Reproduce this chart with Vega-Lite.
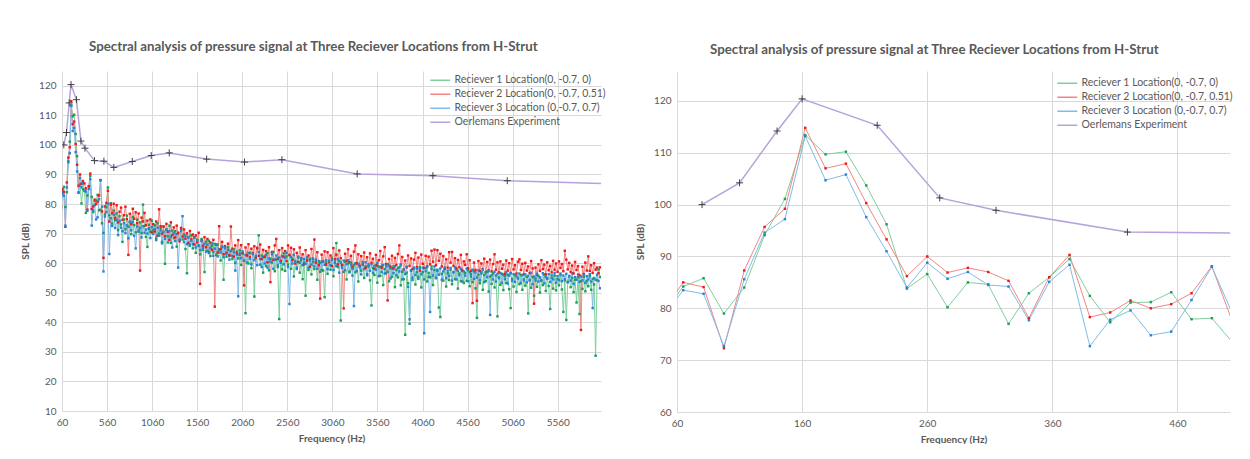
{
"$schema": "https://vega.github.io/schema/vega-lite/v6.json",
"background": "white",
"padding": {"left": 20, "top": 39, "right": 0, "bottom": 0},
"spacing": 29,
"config": {
  "font": "Lato",
  "view": {"stroke": null},
  "axis": {"labelColor": "#595959", "labelFontSize": 10, "titleColor": "#595959", "titleFontSize": 10, "titleFontWeight": "bold", "gridColor": "#d9d9d9", "gridWidth": 1, "ticks": false, "domain": false, "labelPadding": 6, "labelFlush": false},
  "title": {"color": "#595959", "fontSize": 13.3, "fontWeight": "bold", "anchor": "middle", "frame": "bounds"},
  "legend": {"orient": "none", "symbolType": "M-2.5,0L2.5,0", "symbolSize": 64, "symbolStrokeWidth": 1.5, "labelFontSize": 10.5, "labelColor": "#595959", "rowPadding": 3, "labelOffset": 9, "padding": 0}
},
"datasets": {
"oe": [
{"f":80,"s":"d","v":100.0},{"f":110,"s":"d","v":104.2},{"f":140,"s":"d","v":114.2},{"f":160,"s":"d","v":120.4},{"f":220,"s":"d","v":115.3},{"f":270,"s":"d","v":101.3},{"f":315,"s":"d","v":98.9},{"f":420,"s":"d","v":94.7},{"f":525,"s":"d","v":94.5},{"f":635,"s":"d","v":92.4},{"f":840,"s":"d","v":94.4},{"f":1050,"s":"d","v":96.4},{"f":1250,"s":"d","v":97.3},{"f":1665,"s":"d","v":95.2},{"f":2085,"s":"d","v":94.2},{"f":2500,"s":"d","v":95.0},{"f":3335,"s":"d","v":90.2},{"f":4175,"s":"d","v":89.6},{"f":5000,"s":"d","v":87.9},{"f":6300,"s":"d","v":86.7}
],
"rx": [
{"f":48.75,"a":79.0,"b":79.5,"c":78.4},
{"f":65,"a":84.2,"b":85.0,"c":83.5},
{"f":81.25,"a":85.8,"b":84.1,"c":82.8},
{"f":97.5,"a":79.0,"b":72.3,"c":72.7},
{"f":113.75,"a":84.0,"b":87.3,"c":85.6},
{"f":130,"a":94.1,"b":95.7,"c":94.6},
{"f":146.25,"a":101.1,"b":99.2,"c":97.2},
{"f":162.5,"a":113.4,"b":114.8,"c":113.2},
{"f":178.75,"a":109.7,"b":107.0,"c":104.7},
{"f":195,"a":110.2,"b":107.9,"c":105.8},
{"f":211.25,"a":103.7,"b":100.3,"c":97.6},
{"f":227.5,"a":96.2,"b":93.3,"c":91.0},
{"f":243.75,"a":83.8,"b":86.2,"c":84.0},
{"f":260,"a":86.6,"b":90.0,"c":88.8},
{"f":276.25,"a":80.2,"b":86.9,"c":85.7},
{"f":292.5,"a":85.0,"b":87.8,"c":87.0},
{"f":308.75,"a":84.6,"b":87.0,"c":84.5},
{"f":325,"a":77.0,"b":85.3,"c":84.2},
{"f":341.25,"a":82.9,"b":78.1,"c":77.7},
{"f":357.5,"a":86.0,"b":86.0,"c":85.1},
{"f":373.75,"a":89.5,"b":90.3,"c":88.4},
{"f":390,"a":82.4,"b":78.3,"c":72.7},
{"f":406.25,"a":77.3,"b":79.2,"c":77.8},
{"f":422.5,"a":81.1,"b":81.5,"c":79.6},
{"f":438.75,"a":81.2,"b":80.0,"c":74.8},
{"f":455,"a":83.1,"b":80.8,"c":75.5},
{"f":471.25,"a":77.9,"b":82.9,"c":81.6},
{"f":487.5,"a":78.1,"b":88.1,"c":88.0},
{"f":503.75,"a":73.5,"b":77.5,"c":79.1},
{"f":520,"a":70.2,"b":61.8,"c":57.2},
{"f":536.25,"a":76.5,"b":79.2,"c":75.8},
{"f":552.5,"a":78.9,"b":80.4,"c":77.3},
{"f":568.75,"a":85.6,"b":84.5,"c":80.1},
{"f":585,"a":76.2,"b":74.1,"c":63.1},
{"f":601.25,"a":80.3,"b":79.8,"c":75.2},
{"f":617.5,"a":73.4,"b":76.9,"c":72.6},
{"f":633.75,"a":77.8,"b":80.1,"c":76.4},
{"f":650,"a":74.5,"b":75.3,"c":71.9},
{"f":666.25,"a":76.8,"b":79.6,"c":74.7},
{"f":682.5,"a":71.2,"b":73.8,"c":69.5},
{"f":698.75,"a":75.9,"b":77.4,"c":74.3},
{"f":715,"a":73.1,"b":78.8,"c":72.0},
{"f":731.25,"a":67.2,"b":74.6,"c":70.8},
{"f":747.5,"a":74.8,"b":76.2,"c":73.5},
{"f":763.75,"a":71.5,"b":79.1,"c":70.2},
{"f":780,"a":76.1,"b":74.9,"c":72.8},
{"f":796.25,"a":72.3,"b":62.8,"c":68.4},
{"f":812.5,"a":74.0,"b":76.7,"c":73.9},
{"f":828.75,"a":69.8,"b":73.2,"c":71.1},
{"f":845,"a":75.6,"b":78.4,"c":74.0},
{"f":861.25,"a":72.9,"b":75.0,"c":69.3},
{"f":877.5,"a":70.4,"b":77.2,"c":65.0},
{"f":893.75,"a":74.7,"b":73.5,"c":72.4},
{"f":910,"a":71.0,"b":76.8,"c":70.6},
{"f":926.25,"a":73.8,"b":57.5,"c":71.9},
{"f":942.5,"a":70.2,"b":75.4,"c":68.7},
{"f":958.75,"a":79.8,"b":74.1,"c":72.5},
{"f":975,"a":72.6,"b":77.0,"c":70.3},
{"f":991.25,"a":68.9,"b":72.8,"c":71.4},
{"f":1007.5,"a":65.5,"b":74.4,"c":70.0},
{"f":1023.75,"a":73.0,"b":71.6,"c":71.8},
{"f":1040,"a":70.7,"b":74.8,"c":68.5},
{"f":1056.25,"a":74.4,"b":70.4,"c":72.2},
{"f":1072.5,"a":71.1,"b":73.2,"c":69.9},
{"f":1088.75,"a":72.8,"b":70.7,"c":71.5},
{"f":1105,"a":68.4,"b":74.1,"c":67.8},
{"f":1121.25,"a":73.5,"b":69.3,"c":72.0},
{"f":1137.5,"a":70.0,"b":78.2,"c":69.3},
{"f":1153.75,"a":71.9,"b":72.5,"c":71.1},
{"f":1170,"a":67.2,"b":70.0,"c":66.7},
{"f":1186.25,"a":72.4,"b":72.4,"c":70.6},
{"f":1202.5,"a":59.8,"b":69.1,"c":68.2},
{"f":1218.75,"a":71.3,"b":73.3,"c":71.4},
{"f":1235,"a":69.1,"b":70.6,"c":67.0},
{"f":1251.25,"a":72.7,"b":67.9,"c":70.8},
{"f":1267.5,"a":66.9,"b":73.8,"c":68.9},
{"f":1283.75,"a":71.0,"b":69.5,"c":65.3},
{"f":1300,"a":68.5,"b":72.1,"c":70.1},
{"f":1316.25,"a":70.8,"b":68.7,"c":67.5},
{"f":1332.5,"a":65.6,"b":72.7,"c":69.8},
{"f":1348.75,"a":70.3,"b":70.2,"c":58.5},
{"f":1365,"a":67.8,"b":67.4,"c":68.0},
{"f":1381.25,"a":71.6,"b":71.9,"c":70.9},
{"f":1397.5,"a":68.0,"b":69.0,"c":75.9},
{"f":1413.75,"a":69.7,"b":71.4,"c":67.1},
{"f":1430,"a":64.8,"b":68.3,"c":69.2},
{"f":1446.25,"a":56.6,"b":70.1,"c":66.4},
{"f":1462.5,"a":68.9,"b":66.8,"c":68.7},
{"f":1478.75,"a":66.2,"b":70.9,"c":65.9},
{"f":1495,"a":69.4,"b":68.0,"c":67.6},
{"f":1511.25,"a":65.0,"b":69.7,"c":66.5},
{"f":1527.5,"a":68.6,"b":66.3,"c":68.8},
{"f":1543.75,"a":63.5,"b":69.4,"c":65.3},
{"f":1560,"a":67.9,"b":67.1,"c":67.7},
{"f":1576.25,"a":65.8,"b":70.3,"c":66.0},
{"f":1592.5,"a":63.0,"b":53.0,"c":64.4},
{"f":1608.75,"a":68.2,"b":67.6,"c":67.5},
{"f":1625,"a":64.5,"b":65.9,"c":65.2},
{"f":1641.25,"a":57.0,"b":68.8,"c":66.6},
{"f":1657.5,"a":67.3,"b":65.4,"c":63.9},
{"f":1673.75,"a":64.2,"b":68.2,"c":66.3},
{"f":1690,"a":67.6,"b":63.7,"c":63.4},
{"f":1706.25,"a":62.4,"b":67.0,"c":65.1},
{"f":1722.5,"a":65.9,"b":64.5,"c":66.7},
{"f":1738.75,"a":63.7,"b":67.9,"c":62.5},
{"f":1755,"a":66.5,"b":45.3,"c":64.9},
{"f":1771.25,"a":62.8,"b":66.3,"c":66.2},
{"f":1787.5,"a":66.3,"b":63.6,"c":62.3},
{"f":1803.75,"a":64.4,"b":72.5,"c":64.8},
{"f":1820,"a":60.9,"b":64.7,"c":63.6},
{"f":1836.25,"a":65.6,"b":67.2,"c":65.5},
{"f":1852.5,"a":54.4,"b":63.0,"c":62.0},
{"f":1868.75,"a":65.1,"b":65.8,"c":65.3},
{"f":1885,"a":62.2,"b":63.5,"c":63.1},
{"f":1901.25,"a":65.4,"b":66.6,"c":64.5},
{"f":1917.5,"a":62.5,"b":62.7,"c":61.2},
{"f":1933.75,"a":64.1,"b":72.4,"c":64.2},
{"f":1950,"a":61.4,"b":64.9,"c":62.4},
{"f":1966.25,"a":64.7,"b":62.2,"c":63.7},
{"f":1982.5,"a":60.1,"b":66.0,"c":57.5},
{"f":1998.75,"a":63.9,"b":63.4,"c":62.9},
{"f":2015,"a":61.6,"b":67.8,"c":48.8},
{"f":2031.25,"a":64.3,"b":62.9,"c":63.3},
{"f":2047.5,"a":59.4,"b":66.1,"c":61.7},
{"f":2063.75,"a":63.2,"b":63.5,"c":64.0},
{"f":2080,"a":60.8,"b":52.5,"c":60.9},
{"f":2096.25,"a":43.1,"b":65.3,"c":62.8},
{"f":2112.5,"a":62.7,"b":62.6,"c":60.2},
{"f":2128.75,"a":59.9,"b":66.4,"c":63.5},
{"f":2145,"a":63.5,"b":62.0,"c":61.5},
{"f":2161.25,"a":58.3,"b":64.9,"c":59.6},
{"f":2177.5,"a":63.0,"b":63.4,"c":63.2},
{"f":2193.75,"a":48.7,"b":65.7,"c":61.0},
{"f":2210,"a":61.8,"b":61.9,"c":62.5},
{"f":2226.25,"a":64.9,"b":65.2,"c":59.3},
{"f":2242.5,"a":69.4,"b":62.5,"c":63.8},
{"f":2258.75,"a":59.5,"b":66.3,"c":61.4},
{"f":2275,"a":62.6,"b":61.4,"c":58.7},
{"f":2291.25,"a":56.8,"b":64.5,"c":62.1},
{"f":2307.5,"a":62.1,"b":62.2,"c":59.9},
{"f":2323.75,"a":59.0,"b":64.1,"c":62.7},
{"f":2340,"a":63.4,"b":60.3,"c":58.5},
{"f":2356.25,"a":57.6,"b":65.4,"c":61.6},
{"f":2372.5,"a":61.5,"b":53.6,"c":60.5},
{"f":2388.75,"a":60.2,"b":63.8,"c":63.0},
{"f":2405,"a":63.8,"b":61.1,"c":58.1},
{"f":2421.25,"a":57.3,"b":66.0,"c":61.3},
{"f":2437.5,"a":61.1,"b":68.2,"c":62.6},
{"f":2453.75,"a":58.7,"b":61.5,"c":59.4},
{"f":2470,"a":41.1,"b":64.4,"c":61.9},
{"f":2486.25,"a":60.6,"b":60.8,"c":60.1},
{"f":2502.5,"a":57.9,"b":65.1,"c":62.4},
{"f":2518.75,"a":63.3,"b":62.2,"c":59.6},
{"f":2535,"a":57.4,"b":64.1,"c":61.8},
{"f":2551.25,"a":62.3,"b":60.7,"c":63.5},
{"f":2567.5,"a":59.5,"b":66.0,"c":58.7},
{"f":2583.75,"a":62.7,"b":62.8,"c":46.2},
{"f":2600,"a":58.1,"b":65.2,"c":62.1},
{"f":2616.25,"a":61.4,"b":61.0,"c":59.9},
{"f":2632.5,"a":55.5,"b":64.7,"c":62.8},
{"f":2648.75,"a":60.7,"b":59.9,"c":60.5},
{"f":2665,"a":58.5,"b":63.5,"c":58.0},
{"f":2681.25,"a":61.9,"b":60.4,"c":62.2},
{"f":2697.5,"a":56.8,"b":65.3,"c":60.1},
{"f":2713.75,"a":61.0,"b":61.7,"c":61.7},
{"f":2730,"a":54.6,"b":63.0,"c":59.3},
{"f":2746.25,"a":60.2,"b":59.6,"c":61.4},
{"f":2762.5,"a":49.0,"b":64.4,"c":59.8},
{"f":2778.75,"a":61.1,"b":60.9,"c":62.0},
{"f":2795,"a":57.7,"b":62.6,"c":58.4},
{"f":2811.25,"a":61.5,"b":58.8,"c":60.9},
{"f":2827.5,"a":56.2,"b":64.8,"c":59.5},
{"f":2843.75,"a":60.4,"b":61.4,"c":61.6},
{"f":2860,"a":58.0,"b":68.0,"c":58.9},
{"f":2876.25,"a":60.8,"b":60.2,"c":61.2},
{"f":2892.5,"a":54.4,"b":63.7,"c":58.1},
{"f":2908.75,"a":59.9,"b":59.3,"c":60.7},
{"f":2925,"a":57.1,"b":48.0,"c":60.2},
{"f":2941.25,"a":60.6,"b":62.9,"c":57.7},
{"f":2957.5,"a":57.5,"b":60.6,"c":60.5},
{"f":2973.75,"a":48.5,"b":64.0,"c":59.4},
{"f":2990,"a":60.1,"b":59.5,"c":61.0},
{"f":3006.25,"a":56.4,"b":63.7,"c":58.0},
{"f":3022.5,"a":60.3,"b":60.5,"c":60.8},
{"f":3038.75,"a":57.8,"b":62.6,"c":59.3},
{"f":3055,"a":61.8,"b":59.0,"c":61.1},
{"f":3071.25,"a":55.6,"b":65.1,"c":57.7},
{"f":3087.5,"a":60.0,"b":61.3,"c":60.5},
{"f":3103.75,"a":66.8,"b":62.9,"c":59.0},
{"f":3120,"a":58.7,"b":59.6,"c":61.3},
{"f":3136.25,"a":60.8,"b":64.3,"c":56.8},
{"f":3152.5,"a":40.6,"b":61.7,"c":60.2},
{"f":3168.75,"a":59.2,"b":59.4,"c":58.4},
{"f":3185,"a":57.0,"b":44.7,"c":60.9},
{"f":3201.25,"a":60.5,"b":63.2,"c":57.6},
{"f":3217.5,"a":54.5,"b":60.8,"c":59.7},
{"f":3233.75,"a":59.9,"b":64.7,"c":61.0},
{"f":3250,"a":57.2,"b":60.3,"c":56.9},
{"f":3266.25,"a":60.2,"b":62.5,"c":59.5},
{"f":3282.5,"a":55.8,"b":58.7,"c":58.1},
{"f":3298.75,"a":59.4,"b":63.9,"c":45.5},
{"f":3315,"a":56.9,"b":66.0,"c":60.0},
{"f":3331.25,"a":60.1,"b":59.9,"c":57.3},
{"f":3347.5,"a":53.8,"b":63.0,"c":59.8},
{"f":3363.75,"a":59.0,"b":59.1,"c":58.6},
{"f":3380,"a":57.5,"b":62.4,"c":56.2},
{"f":3396.25,"a":60.4,"b":59.5,"c":59.9},
{"f":3412.5,"a":55.0,"b":63.6,"c":58.0},
{"f":3428.75,"a":58.9,"b":58.4,"c":60.3},
{"f":3445,"a":56.3,"b":62.0,"c":55.9},
{"f":3461.25,"a":59.6,"b":58.9,"c":59.1},
{"f":3477.5,"a":54.2,"b":63.3,"c":57.4},
{"f":3493.75,"a":45.7,"b":60.1,"c":59.6},
{"f":3510,"a":58.4,"b":61.5,"c":56.7},
{"f":3526.25,"a":56.0,"b":58.1,"c":59.0},
{"f":3542.5,"a":59.3,"b":62.8,"c":57.8},
{"f":3558.75,"a":53.4,"b":59.2,"c":60.1},
{"f":3575,"a":58.8,"b":61.0,"c":55.6},
{"f":3591.25,"a":55.7,"b":64.1,"c":58.7},
{"f":3607.5,"a":59.1,"b":58.5,"c":57.0},
{"f":3623.75,"a":52.6,"b":62.3,"c":59.4},
{"f":3640,"a":58.0,"b":65.4,"c":56.5},
{"f":3656.25,"a":56.6,"b":59.7,"c":58.9},
{"f":3672.5,"a":59.7,"b":47.4,"c":57.1},
{"f":3688.75,"a":53.9,"b":61.4,"c":59.2},
{"f":3705,"a":58.3,"b":58.8,"c":54.8},
{"f":3721.25,"a":55.4,"b":62.5,"c":58.3},
{"f":3737.5,"a":58.9,"b":58.2,"c":56.6},
{"f":3753.75,"a":51.9,"b":61.8,"c":59.0},
{"f":3770,"a":57.7,"b":59.4,"c":55.9},
{"f":3786.25,"a":55.2,"b":63.1,"c":58.4},
{"f":3802.5,"a":58.6,"b":66.0,"c":57.2},
{"f":3818.75,"a":52.5,"b":59.5,"c":59.3},
{"f":3835,"a":57.1,"b":62.1,"c":54.5},
{"f":3851.25,"a":54.6,"b":57.8,"c":57.9},
{"f":3867.5,"a":35.8,"b":60.9,"c":56.3},
{"f":3883.75,"a":56.8,"b":58.6,"c":58.8},
{"f":3900,"a":53.2,"b":62.6,"c":52.0},
{"f":3916.25,"a":39.5,"b":59.1,"c":41.0},
{"f":3932.5,"a":57.4,"b":61.6,"c":57.6},
{"f":3948.75,"a":54.3,"b":58.0,"c":55.1},
{"f":3965,"a":58.2,"b":61.2,"c":58.5},
{"f":3981.25,"a":52.8,"b":63.5,"c":56.0},
{"f":3997.5,"a":57.0,"b":58.7,"c":58.1},
{"f":4013.75,"a":55.4,"b":61.9,"c":54.7},
{"f":4030,"a":58.6,"b":57.5,"c":58.3},
{"f":4046.25,"a":51.8,"b":62.9,"c":56.2},
{"f":4062.5,"a":57.0,"b":59.8,"c":58.5},
{"f":4078.75,"a":54.5,"b":58.3,"c":36.3},
{"f":4095,"a":58.4,"b":62.5,"c":57.3},
{"f":4111.25,"a":53.8,"b":59.0,"c":58.7},
{"f":4127.5,"a":56.7,"b":62.2,"c":55.4},
{"f":4143.75,"a":55.2,"b":59.6,"c":43.5},
{"f":4160,"a":58.9,"b":64.2,"c":58.0},
{"f":4176.25,"a":52.6,"b":60.5,"c":55.8},
{"f":4192.5,"a":57.7,"b":64.6,"c":58.9},
{"f":4208.75,"a":54.9,"b":59.3,"c":55.1},
{"f":4225,"a":57.4,"b":64.4,"c":57.8},
{"f":4241.25,"a":45.0,"b":60.8,"c":56.1},
{"f":4257.5,"a":41.8,"b":63.2,"c":58.2},
{"f":4273.75,"a":56.4,"b":58.9,"c":54.4},
{"f":4290,"a":54.1,"b":62.4,"c":57.2},
{"f":4306.25,"a":58.1,"b":58.1,"c":58.5},
{"f":4322.5,"a":52.1,"b":61.3,"c":54.9},
{"f":4338.75,"a":56.6,"b":58.5,"c":57.5},
{"f":4355,"a":54.3,"b":63.7,"c":55.7},
{"f":4371.25,"a":57.8,"b":60.2,"c":58.4},
{"f":4387.5,"a":52.9,"b":63.8,"c":54.1},
{"f":4403.75,"a":56.9,"b":59.1,"c":57.0},
{"f":4420,"a":54.6,"b":61.7,"c":58.6},
{"f":4436.25,"a":58.3,"b":57.9,"c":54.5},
{"f":4452.5,"a":51.4,"b":61.1,"c":57.4},
{"f":4468.75,"a":56.5,"b":58.6,"c":55.9},
{"f":4485,"a":53.9,"b":62.8,"c":58.1},
{"f":4501.25,"a":57.5,"b":57.5,"c":53.8},
{"f":4517.5,"a":53.3,"b":60.6,"c":57.2},
{"f":4533.75,"a":56.7,"b":59.4,"c":55.8},
{"f":4550,"a":54.0,"b":63.0,"c":58.2},
{"f":4566.25,"a":57.6,"b":58.3,"c":53.9},
{"f":4582.5,"a":52.2,"b":61.0,"c":57.0},
{"f":4598.75,"a":56.3,"b":57.4,"c":55.5},
{"f":4615,"a":53.6,"b":46.5,"c":57.8},
{"f":4631.25,"a":57.3,"b":60.2,"c":54.7},
{"f":4647.5,"a":51.5,"b":57.7,"c":56.9},
{"f":4663.75,"a":41.5,"b":47.3,"c":55.1},
{"f":4680,"a":56.1,"b":60.7,"c":57.6},
{"f":4696.25,"a":53.2,"b":57.3,"c":54.2},
{"f":4712.5,"a":57.0,"b":59.9,"c":56.5},
{"f":4728.75,"a":51.0,"b":58.0,"c":57.9},
{"f":4745,"a":56.0,"b":61.5,"c":53.6},
{"f":4761.25,"a":53.9,"b":57.0,"c":56.8},
{"f":4777.5,"a":57.1,"b":60.4,"c":55.3},
{"f":4793.75,"a":50.4,"b":57.6,"c":57.3},
{"f":4810,"a":55.5,"b":61.2,"c":42.5},
{"f":4826.25,"a":53.0,"b":57.2,"c":56.0},
{"f":4842.5,"a":56.6,"b":59.7,"c":54.5},
{"f":4858.75,"a":51.8,"b":63.0,"c":57.1},
{"f":4875,"a":55.8,"b":57.8,"c":53.8},
{"f":4891.25,"a":42.0,"b":60.3,"c":56.4},
{"f":4907.5,"a":55.2,"b":56.9,"c":54.9},
{"f":4923.75,"a":52.7,"b":60.6,"c":56.7},
{"f":4940,"a":56.4,"b":58.1,"c":53.4},
{"f":4956.25,"a":50.9,"b":59.5,"c":56.1},
{"f":4972.5,"a":55.6,"b":56.4,"c":54.6},
{"f":4988.75,"a":53.3,"b":60.9,"c":56.9},
{"f":5005,"a":56.1,"b":57.5,"c":53.1},
{"f":5021.25,"a":51.2,"b":60.0,"c":55.8},
{"f":5037.5,"a":44.8,"b":56.7,"c":56.6},
{"f":5053.75,"a":54.7,"b":61.4,"c":54.0},
{"f":5070,"a":52.1,"b":57.9,"c":56.3},
{"f":5086.25,"a":55.9,"b":59.3,"c":53.7},
{"f":5102.5,"a":50.3,"b":56.5,"c":55.6},
{"f":5118.75,"a":55.0,"b":60.5,"c":54.8},
{"f":5135,"a":52.9,"b":61.3,"c":56.5},
{"f":5151.25,"a":56.0,"b":57.7,"c":53.3},
{"f":5167.5,"a":51.0,"b":59.8,"c":55.9},
{"f":5183.75,"a":54.5,"b":56.3,"c":54.2},
{"f":5200,"a":52.4,"b":60.1,"c":56.2},
{"f":5216.25,"a":55.4,"b":57.5,"c":53.5},
{"f":5232.5,"a":43.0,"b":58.9,"c":55.7},
{"f":5248.75,"a":54.1,"b":56.6,"c":54.4},
{"f":5265,"a":51.7,"b":60.7,"c":56.8},
{"f":5281.25,"a":55.3,"b":58.2,"c":52.9},
{"f":5297.5,"a":49.0,"b":46.3,"c":55.5},
{"f":5313.75,"a":54.8,"b":58.5,"c":54.1},
{"f":5330,"a":52.0,"b":56.1,"c":56.4},
{"f":5346.25,"a":55.7,"b":59.6,"c":53.8},
{"f":5362.5,"a":50.1,"b":57.4,"c":55.2},
{"f":5378.75,"a":54.3,"b":61.0,"c":54.0},
{"f":5395,"a":52.6,"b":58.0,"c":56.6},
{"f":5411.25,"a":56.2,"b":59.5,"c":53.2},
{"f":5427.5,"a":50.6,"b":56.2,"c":55.4},
{"f":5443.75,"a":54.9,"b":60.3,"c":54.7},
{"f":5460,"a":52.3,"b":57.6,"c":56.3},
{"f":5476.25,"a":44.5,"b":59.1,"c":53.6},
{"f":5492.5,"a":55.1,"b":56.9,"c":55.9},
{"f":5508.75,"a":51.4,"b":60.8,"c":54.5},
{"f":5525,"a":55.8,"b":57.8,"c":56.7},
{"f":5541.25,"a":50.8,"b":59.9,"c":53.4},
{"f":5557.5,"a":54.6,"b":57.1,"c":55.6},
{"f":5573.75,"a":52.5,"b":60.6,"c":54.3},
{"f":5590,"a":56.0,"b":58.4,"c":56.5},
{"f":5606.25,"a":51.1,"b":59.7,"c":53.9},
{"f":5622.5,"a":43.5,"b":57.3,"c":55.8},
{"f":5638.75,"a":54.2,"b":64.2,"c":54.6},
{"f":5655,"a":40.8,"b":61.2,"c":56.4},
{"f":5671.25,"a":53.7,"b":57.9,"c":53.5},
{"f":5687.5,"a":55.5,"b":60.1,"c":55.7},
{"f":5703.75,"a":51.9,"b":57.0,"c":54.1},
{"f":5720,"a":55.0,"b":59.2,"c":56.6},
{"f":5736.25,"a":50.2,"b":56.5,"c":53.0},
{"f":5752.5,"a":54.4,"b":60.4,"c":55.3},
{"f":5768.75,"a":46.7,"b":57.7,"c":54.4},
{"f":5785,"a":55.2,"b":59.0,"c":56.2},
{"f":5801.25,"a":42.8,"b":55.9,"c":53.7},
{"f":5817.5,"a":53.9,"b":37.4,"c":55.5},
{"f":5833.75,"a":51.3,"b":58.8,"c":54.2},
{"f":5850,"a":55.4,"b":56.3,"c":56.0},
{"f":5866.25,"a":50.5,"b":60.2,"c":53.3},
{"f":5882.5,"a":54.0,"b":57.5,"c":55.6},
{"f":5898.75,"a":52.2,"b":62.3,"c":54.5},
{"f":5915,"a":55.6,"b":57.4,"c":56.3},
{"f":5931.25,"a":51.0,"b":59.3,"c":53.8},
{"f":5947.5,"a":54.7,"b":56.7,"c":44.8},
{"f":5963.75,"a":52.8,"b":60.0,"c":55.0},
{"f":5980,"a":28.7,"b":57.8,"c":54.4},
{"f":5996.25,"a":54.2,"b":58.5,"c":56.1},
{"f":6012.5,"a":57.9,"b":56.6,"c":54.0},
{"f":6028.75,"a":55.3,"b":58.6,"c":51.5}
]
},
"resolve": {"scale": {"stroke": "independent", "fill": "independent", "x": "independent", "y": "independent"}, "legend": {"stroke": "independent"}},
"hconcat": [
{
  "width": 539, "height": 340,
  "title": {"text": "Spectral analysis of pressure signal at Three Reciever Locations from H-Strut", "offset": 18},
  "encoding": {
    "x": {"field": "f", "type": "quantitative", "scale": {"domain": [60, 6040], "nice": false, "zero": false}, "axis": {"values": [60,560,1060,1560,2060,2560,3060,3560,4060,4560,5060,5560], "format": "d", "title": "Frequency (Hz)", "titlePadding": 6}},
    "y": {"field": "v", "type": "quantitative", "scale": {"domain": [10, 125], "nice": false, "zero": false}, "axis": {"values": [10,20,30,40,50,60,70,80,90,100,110,120], "title": "SPL (dB)", "titlePadding": 8}}
  },
  "layer": [
    {"data": {"name": "rx"}, "transform": [{"fold": ["a","b","c"], "as": ["s","v"]}],
     "mark": {"type": "line", "strokeWidth": 1, "clip": true},
     "encoding": {"stroke": {"field": "s", "type": "nominal", "scale": {"domain": ["a","b","c","d"], "range": ["#7fcf9e","#f28585","#82bbe8","#b7a2dc"]},
       "legend": {"title": null, "legendX": 373, "legendY": 4, "labelExpr": "datum.label == 'a' ? 'Reciever 1 Location(0, -0.7, 0)' : datum.label == 'b' ? 'Reciever 2 Location(0, -0.7, 0.51)' : datum.label == 'c' ? 'Reciever 3 Location (0,-0.7, 0.7)' : 'Oerlemans Experiment'"}}}},
    {"data": {"name": "oe"},
     "mark": {"type": "line", "strokeWidth": 1.5, "clip": true},
     "encoding": {"stroke": {"field": "s", "type": "nominal"}}},
    {"data": {"name": "rx"}, "transform": [{"fold": ["a","b","c"], "as": ["s","v"]}],
     "mark": {"type": "point", "filled": true, "shape": "square", "size": 6, "opacity": 1, "clip": true},
     "encoding": {"fill": {"field": "s", "type": "nominal", "scale": {"domain": ["a","b","c"], "range": ["#1f9e57","#f01818","#2a84d4"]}, "legend": null}}},
    {"data": {"name": "oe"},
     "mark": {"type": "point", "shape": "M-1,0L1,0M0,-1L0,1", "filled": false, "stroke": "#404040", "strokeWidth": 1, "size": 49, "opacity": 1, "clip": true},
     "encoding": {}}
  ]
},
{
  "width": 553, "height": 341,
  "title": {"text": "Spectral analysis of pressure signal at Three Reciever Locations from H-Strut", "offset": 15},
  "encoding": {
    "x": {"field": "f", "type": "quantitative", "scale": {"domain": [60, 502], "nice": false, "zero": false}, "axis": {"values": [60,160,260,360,460], "format": "d", "title": "Frequency (Hz)", "titlePadding": 6}},
    "y": {"field": "v", "type": "quantitative", "scale": {"domain": [60, 125.77], "nice": false, "zero": false}, "axis": {"values": [60,70,80,90,100,110,120], "title": "SPL (dB)", "titlePadding": 8}}
  },
  "layer": [
    {"data": {"name": "rx"}, "transform": [{"filter": "datum.f <= 520"}, {"fold": ["a","b","c"], "as": ["s","v"]}],
     "mark": {"type": "line", "strokeWidth": 1, "clip": true},
     "encoding": {"stroke": {"field": "s", "type": "nominal", "scale": {"domain": ["a","b","c","d"], "range": ["#7fcf9e","#f28585","#82bbe8","#b7a2dc"]},
       "legend": {"title": null, "legendX": 385, "legendY": 7, "labelExpr": "datum.label == 'a' ? 'Reciever 1 Location(0, -0.7, 0)' : datum.label == 'b' ? 'Reciever 2 Location(0, -0.7, 0.51)' : datum.label == 'c' ? 'Reciever 3 Location (0,-0.7, 0.7)' : 'Oerlemans Experiment'"}}}},
    {"data": {"name": "oe"}, "transform": [{"filter": "datum.f <= 700"}],
     "mark": {"type": "line", "strokeWidth": 1.5, "clip": true},
     "encoding": {"stroke": {"field": "s", "type": "nominal"}}},
    {"data": {"name": "rx"}, "transform": [{"filter": "datum.f <= 520"}, {"fold": ["a","b","c"], "as": ["s","v"]}],
     "mark": {"type": "point", "filled": true, "shape": "square", "size": 6, "opacity": 1, "clip": true},
     "encoding": {"fill": {"field": "s", "type": "nominal", "scale": {"domain": ["a","b","c"], "range": ["#1f9e57","#f01818","#2a84d4"]}, "legend": null}}},
    {"data": {"name": "oe"}, "transform": [{"filter": "datum.f <= 700"}],
     "mark": {"type": "point", "shape": "M-1,0L1,0M0,-1L0,1", "filled": false, "stroke": "#404040", "strokeWidth": 1, "size": 49, "opacity": 1, "clip": true},
     "encoding": {}}
  ]
}
]
}
